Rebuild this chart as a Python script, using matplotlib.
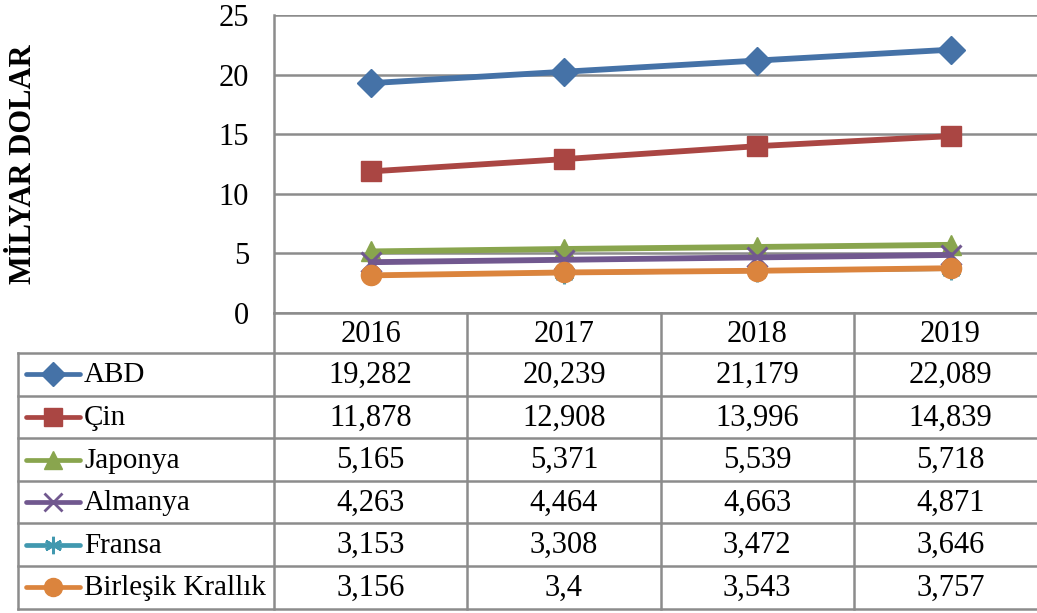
import matplotlib.pyplot as plt
from matplotlib.lines import Line2D

plt.rcParams['font.family'] = ['Liberation Serif', 'DejaVu Serif']

years = ['2016', '2017', '2018', '2019']
countries = ['ABD', 'Çin', 'Japonya', 'Almanya', 'Fransa', 'Birleşik Krallık']
abd = [19.282, 20.239, 21.179, 22.089]
cin = [11.878, 12.908, 13.996, 14.839]
japonya = [5.165, 5.371, 5.539, 5.718]
almanya = [4.263, 4.464, 4.663, 4.871]
fransa = [3.153, 3.308, 3.472, 3.646]
birlesik = [3.156, 3.4, 3.543, 3.757]
series = [abd, cin, japonya, almanya, fransa, birlesik]

colors = ['#4572A7', '#AA4643', '#89A54E', '#71588F', '#4198AF', '#DB843D']
markers = ['D', 's', '^', 'x', (6, 2, 0), 'o']
msizes = [14, 14.5, 15, 14, 14, 14.5]
lwidths = [4.2, 4.2, 4.2, 4.2, 2.0, 4.2]

W, H = 1037, 613
fig = plt.figure(figsize=(W / 100, H / 100), dpi=100)

# pixel layout
x0, colw = 274, 193.3
top, bot = 15, 313
row_top, rowh = 353, 42.6
tab_left = 18
fs = 22
grid_c = '#8c8c8c'

ax = fig.add_axes([x0 / W, 1 - bot / H, 4 * colw / W, (bot - top) / H])
for s, c, m, ms, lw in zip(series, colors, markers, msizes, lwidths):
    thin = m == 'x' or isinstance(m, tuple)
    ax.plot(range(4), s, color=c, lw=lw, marker=m, ms=ms, mew=2.2 if thin else 1,
            mec=c, mfc=c, solid_capstyle='round')
ax.set_xlim(-0.5, 3.5)
ax.set_ylim(0, 25)
ax.set_yticks([0, 5, 10, 15, 20, 25])
ax.set_xticks([])
ax.grid(axis='y', color=grid_c, lw=1.8)
ax.set_axisbelow(True)
for sp in ['top', 'right', 'bottom']:
    ax.spines[sp].set_visible(False)
ax.spines['left'].set_color(grid_c)
ax.spines['left'].set_linewidth(1.8)
ax.tick_params(axis='y', length=0, labelsize=fs, pad=18)
ax.set_ylabel('MİLYAR DOLAR', fontsize=22, fontweight='bold')
ax.yaxis.set_label_coords((38 - x0) / (4 * colw), 0.5)

# data table drawn in pixel coordinates
tab = fig.add_axes([0, 0, 1, 1])
tab.set_xlim(0, W)
tab.set_ylim(H, 0)
tab.axis('off')
tab.patch.set_alpha(0)

n = len(countries)
bottom_y = row_top + n * rowh
tab.plot([x0, W], [bot, bot], color=grid_c, lw=1.8)
for i in range(n + 1):
    y = row_top + i * rowh
    tab.plot([tab_left, W], [y, y], color=grid_c, lw=1.8)
tab.plot([tab_left, tab_left], [row_top, bottom_y], color=grid_c, lw=1.8)
for j in range(4):
    x = x0 + j * colw
    tab.plot([x, x], [bot, bottom_y], color=grid_c, lw=1.8)

for j, yr in enumerate(years):
    tab.text(x0 + (j + 0.5) * colw, (bot + row_top) / 2 + 1, yr, fontsize=fs,
             ha='center', va='center')

for i, (name, s) in enumerate(zip(countries, series)):
    yc = row_top + (i + 0.5) * rowh
    thin = markers[i] == 'x' or isinstance(markers[i], tuple)
    tab.add_line(Line2D([26, 80], [yc, yc], color=colors[i], lw=3.4,
                        solid_capstyle='round'))
    tab.add_line(Line2D([53], [yc], color=colors[i], marker=markers[i],
                        ms=msizes[i] - 1.5, mec=colors[i], mfc=colors[i],
                        mew=2.0 if thin else 1))
    tab.text(84, yc + 1, name, fontsize=21, ha='left', va='center')
    for j, v in enumerate(s):
        txt = ('%g' % v).replace('.', ',')
        tab.text(x0 + (j + 0.5) * colw, yc + 1, txt, fontsize=fs, ha='center', va='center')

fig.savefig('out.png', dpi=100)
